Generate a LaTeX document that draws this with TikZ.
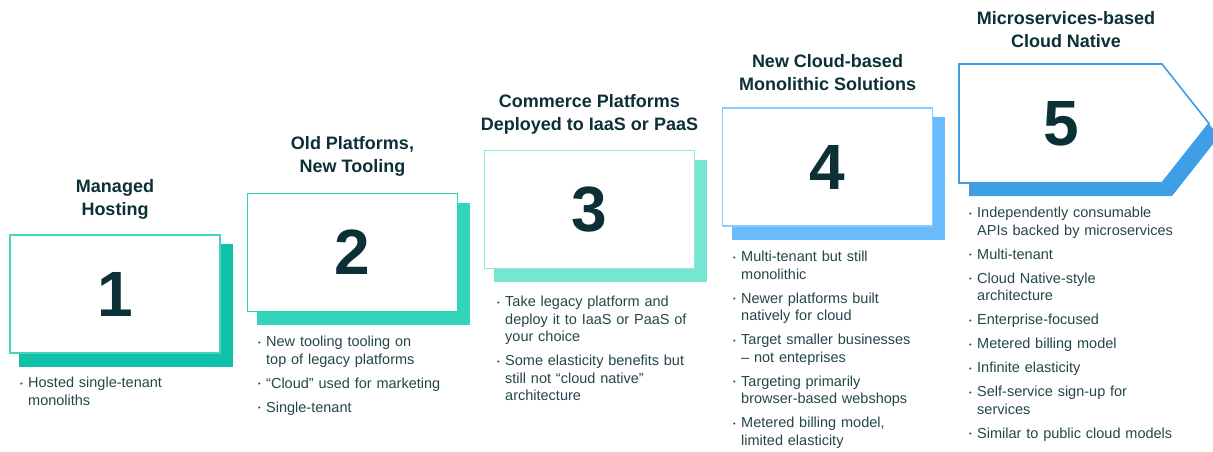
\documentclass[tikz,border=0pt]{standalone}
\usepackage{fontspec}
\setmainfont{Liberation Sans}
\usetikzlibrary{backgrounds}
\definecolor{ink}{HTML}{0B3035}
\definecolor{bodyc}{HTML}{23464A}
\definecolor{shA}{HTML}{0FC1A8}
\definecolor{brA}{HTML}{45D5BF}
\definecolor{shB}{HTML}{33D4BB}
\definecolor{brB}{RGB}{46,211,183}
\definecolor{shC}{HTML}{76E6D3}
\definecolor{brC}{HTML}{8AEBDA}
\definecolor{shD}{HTML}{6ABBFB}
\definecolor{brD}{HTML}{8CCBFB}
\definecolor{shE}{HTML}{3E9FE6}
\definecolor{brE}{HTML}{3E9FE6}
\newcommand{\bul}{\strut\makebox[8pt][l]{\raisebox{1.8pt}{\fontsize{7.5}{7.5}\selectfont\textbullet}}}
\newcommand{\itm}[1]{\noindent\hangindent=8pt\hangafter=1\bul#1\par}
\newcommand{\nl}{\hfil\break}
\tikzset{
  stepbox/.style={draw=#1, line width=1.6pt, fill=white, minimum width=210pt,
    minimum height=118pt, inner sep=0pt, text=ink,
    font=\fontsize{64}{64}\selectfont\bfseries},
  titlebox/.style={align=center, text=ink, inner sep=0pt,
    font=\fontsize{18}{23}\selectfont\bfseries},
  listbox/.style={anchor=north west, inner sep=0pt, text width=240pt, align=left,
    text=bodyc, font=\fontsize{14.5}{17.5}\selectfont\setlength{\parskip}{6.5pt}},
}
\newcommand{\boxshade}[2]{\fill[#2] ([shift={(10pt,-10pt)}]#1.north west) rectangle ([shift={(12pt,-13pt)}]#1.south east);}
\begin{document}
\begin{tikzpicture}[x=1pt, y=-1pt]
\useasboundingbox (0,0) rectangle (1213,452);
% boxes
\node[stepbox=brA] (b1) at (115,294) {1};
\node[stepbox=brB] (b2) at (352.5,252.5) {2};
\node[stepbox=brC] (b3) at (589.5,209.5) {3};
\node[stepbox=brD] (b4) at (827.5,167) {4};
\begin{scope}[on background layer]
\boxshade{b1}{shA}
\boxshade{b2}{shB}
\boxshade{b3}{shC}
\boxshade{b4}{shD}
\end{scope}
% titles
\node[titlebox] (t1) at (115,199.5) {Managed\\Hosting};
\node[titlebox] (t2) at (352.5,156.5) {Old Platforms,\\New Tooling};
\node[titlebox] (t3) at (589.5,114) {Commerce Platforms\\Deployed to IaaS or PaaS};
\node[titlebox] (t4) at (827.5,72.5) {New Cloud-based\\Monolithic Solutions};
% lists
\node[listbox] (l1) at (20,375.5) {\itm{Hosted single-tenant\nl monoliths}};
\node[listbox] (l2) at (258,334.5) {\itm{New tooling tooling on\nl top of legacy platforms}\itm{“Cloud” used for marketing}\itm{Single-tenant}};
\node[listbox] (l3) at (497,294.5) {\itm{Take legacy platform and\nl deploy it to IaaS or PaaS of\nl your choice}\itm{Some elasticity benefits but\nl still not “cloud native”\nl architecture}};
\node[listbox] (l4) at (733,249.5) {\itm{Multi-tenant but still\nl monolithic}\itm{Newer platforms built\nl natively for cloud}\itm{Target smaller businesses\nl – not enteprises}\itm{Targeting primarily\nl browser-based webshops}\itm{Metered billing model,\nl limited elasticity}};
% box 5
\fill[shE] (969,77) -- (1172,77) -- (1219,136.5) -- (1172,196) -- (969,196) -- cycle;
\draw[brE, line width=1.6pt, fill=white] (959,64) -- (1162,64) -- (1209,123.5) -- (1162,183) -- (959,183) -- cycle;
\node[text=ink, font=\fontsize{64}{64}\selectfont\bfseries, inner sep=0pt] (b5) at (1061,123.5) {5};
\node[titlebox] (t5) at (1066,29.5) {Microservices-based\\Cloud Native};
\node[listbox] (l5) at (969,205.5) {\itm{Independently consumable\nl APIs backed by microservices}\itm{Multi-tenant}\itm{Cloud Native-style\nl architecture}\itm{Enterprise-focused}\itm{Metered billing model}\itm{Infinite elasticity}\itm{Self-service sign-up for\nl services}\itm{Similar to public cloud models}};
\end{tikzpicture}
\end{document}
